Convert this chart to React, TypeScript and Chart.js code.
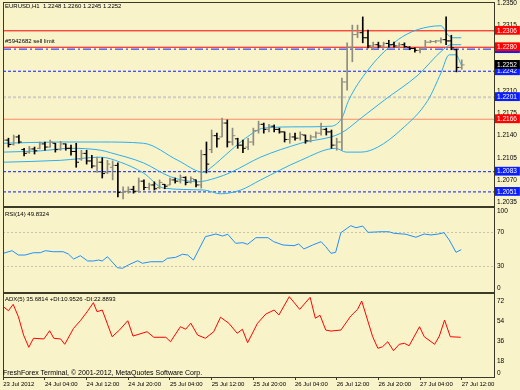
import React, { useEffect, useRef } from "react";
import { Chart, registerables } from "chart.js";

Chart.register(...registerables);

// ---------------- data ----------------
const opens = [
  1.2120, 1.2133, 1.2126, 1.2138, 1.2118, 1.2114, 1.2119, 1.2120, 1.2127, 1.2122,
  1.2128, 1.2118, 1.2127, 1.2120, 1.2115, 1.2103, 1.2112, 1.2100, 1.2092, 1.2098,
  1.2082, 1.2090, 1.2093, 1.2050, 1.2052, 1.2055, 1.2052, 1.2068, 1.2058, 1.2062,
  1.2058, 1.2063, 1.2062, 1.2070, 1.2068, 1.2074, 1.2066, 1.2070, 1.2062, 1.2110,
  1.2118, 1.2140, 1.2138, 1.2160, 1.2130, 1.2135, 1.2125, 1.2122, 1.2130, 1.2148,
  1.2158, 1.2150, 1.2155, 1.2150, 1.2146, 1.2134, 1.2138, 1.2136, 1.2141, 1.2132,
  1.2138, 1.2144, 1.2150, 1.2146, 1.2125, 1.2130, 1.2225, 1.2280, 1.2300, 1.2303,
  1.2295, 1.2282, 1.2284, 1.2282, 1.2286, 1.2284, 1.2282, 1.2284, 1.2280, 1.2278,
  1.2275, 1.2279, 1.2288, 1.2289, 1.2290, 1.2292, 1.2290, 1.2276, 1.2248,
];
const highs = [
  1.2138, 1.2136, 1.2141, 1.2141, 1.2120, 1.2123, 1.2122, 1.2130, 1.2130, 1.2133,
  1.2128, 1.2131, 1.2127, 1.2125, 1.2128, 1.2117, 1.2117, 1.2109, 1.2106, 1.2105,
  1.2101, 1.2100, 1.2097, 1.2059, 1.2059, 1.2060, 1.2073, 1.2070, 1.2065, 1.2067,
  1.2070, 1.2063, 1.2073, 1.2073, 1.2078, 1.2075, 1.2075, 1.2070, 1.2117, 1.2130,
  1.2149, 1.2144, 1.2168, 1.2165, 1.2152, 1.2136, 1.2133, 1.2136, 1.2152, 1.2163,
  1.2160, 1.2158, 1.2157, 1.2152, 1.2146, 1.2144, 1.2144, 1.2146, 1.2141, 1.2141,
  1.2146, 1.2160, 1.2152, 1.2149, 1.2136, 1.2231, 1.2287, 1.2315, 1.2315, 1.2328,
  1.2307, 1.2288, 1.2288, 1.2288, 1.2291, 1.2288, 1.2287, 1.2287, 1.2281, 1.2279,
  1.2279, 1.2291, 1.2291, 1.2291, 1.2295, 1.2328, 1.2299, 1.2277, 1.2260,
];
const lows = [
  1.2117, 1.2122, 1.2125, 1.2128, 1.2108, 1.2112, 1.2111, 1.2119, 1.2117, 1.2122,
  1.2114, 1.2117, 1.2117, 1.2109, 1.2090, 1.2101, 1.2095, 1.2089, 1.2082, 1.2073,
  1.2080, 1.2070, 1.2043, 1.2040, 1.2049, 1.2049, 1.2051, 1.2054, 1.2054, 1.2054,
  1.2056, 1.2056, 1.2062, 1.2065, 1.2065, 1.2062, 1.2065, 1.2059, 1.2057, 1.2081,
  1.2113, 1.2122, 1.2138, 1.2122, 1.2125, 1.2120, 1.2113, 1.2118, 1.2125, 1.2144,
  1.2144, 1.2146, 1.2146, 1.2144, 1.2130, 1.2128, 1.2133, 1.2133, 1.2128, 1.2130,
  1.2136, 1.2141, 1.2141, 1.2120, 1.2117, 1.2117, 1.2212, 1.2257, 1.2295, 1.2287,
  1.2279, 1.2276, 1.2279, 1.2279, 1.2280, 1.2280, 1.2279, 1.2280, 1.2276, 1.2272,
  1.2271, 1.2277, 1.2287, 1.2287, 1.2287, 1.2284, 1.2276, 1.2241, 1.2245,
];
const closes = [
  1.2133, 1.2126, 1.2138, 1.2130, 1.2112, 1.2119, 1.2116, 1.2127, 1.2122, 1.2130,
  1.2118, 1.2127, 1.2120, 1.2115, 1.2098, 1.2112, 1.2100, 1.2092, 1.2098, 1.2080,
  1.2095, 1.2093, 1.2050, 1.2052, 1.2055, 1.2052, 1.2068, 1.2058, 1.2062, 1.2056,
  1.2066, 1.2060, 1.2070, 1.2068, 1.2074, 1.2066, 1.2072, 1.2062, 1.2110, 1.2095,
  1.2140, 1.2135, 1.2160, 1.2130, 1.2140, 1.2125, 1.2120, 1.2130, 1.2148, 1.2158,
  1.2150, 1.2155, 1.2150, 1.2146, 1.2134, 1.2138, 1.2136, 1.2142, 1.2132, 1.2138,
  1.2144, 1.2150, 1.2146, 1.2125, 1.2130, 1.2225, 1.2280, 1.2300, 1.2303, 1.2295,
  1.2282, 1.2284, 1.2282, 1.2286, 1.2284, 1.2282, 1.2284, 1.2281, 1.2278, 1.2275,
  1.2277, 1.2288, 1.2289, 1.2290, 1.2292, 1.2290, 1.2279, 1.2248, 1.2252,
];

// Bollinger bands (bar index, price)
const bbUpperX = [0, 11, 18.7, 26.9, 33.5, 38.5, 39.8, 43.7, 46.5, 50, 57.1, 62.9, 65, 66.3, 70, 75, 78.3, 81.5, 84, 85.4, 86.3, 87.9];
const bbUpperV = [1.2128, 1.2130, 1.2130, 1.2128, 1.2101, 1.2082, 1.2089, 1.2117, 1.2136, 1.2152, 1.2154, 1.2155, 1.2168, 1.2196, 1.2244, 1.2287, 1.2304, 1.2312, 1.2314, 1.2299, 1.2295, 1.2295];
const bbMidX = [0, 7.1, 12.9, 18.7, 20.6, 26.9, 32.1, 37.3, 40.8, 43.7, 49.4, 57.1, 64.8, 68.7, 73.1, 79.6, 84.4, 86, 87.9];
const bbMidV = [1.2114, 1.2116, 1.2120, 1.2117, 1.2113, 1.2097, 1.2075, 1.2067, 1.2073, 1.2082, 1.2106, 1.2128, 1.2144, 1.2168, 1.2196, 1.2236, 1.2276, 1.2284, 1.2284];
const bbLowerX = [0, 11, 18.7, 22.5, 26.9, 30.8, 38.5, 41.7, 45.6, 49.4, 57.1, 63.8, 65.8, 68.7, 71.9, 76.3, 81.5, 84, 85.6, 86.9, 87.9];
const bbLowerV = [1.2098, 1.2101, 1.2106, 1.2098, 1.2081, 1.2057, 1.2054, 1.2048, 1.2054, 1.2070, 1.2101, 1.2120, 1.2114, 1.2114, 1.2122, 1.2149, 1.2196, 1.2239, 1.2268, 1.2268, 1.2252];

// horizontal price levels
const levelValues = [1.2306, 1.2280, 1.2277, 1.2242, 1.2201, 1.2166, 1.2083, 1.2051];
const currentPrice = 1.2252;
const priceTicks = [1.2350, 1.2315, 1.2280, 1.2245, 1.2210, 1.2175, 1.2140, 1.2105, 1.2070, 1.2035];

// RSI(14)
const rsiX = [0, 1.7, 2.9, 4.2, 5.8, 7.1, 8.1, 9.6, 11.5, 12.5, 13.5, 14.8, 16.2, 17.3, 18.3, 19.0, 20.0, 21.9, 22.9, 24.0, 25.8, 26.7, 28.3, 30.6, 31.5, 33.1, 34.4, 35.4, 36.5, 38.8, 40.8, 42.1, 43.1, 44.6, 46.0, 46.9, 48.5, 50.8, 51.9, 53.7, 55.8, 56.7, 57.7, 59.4, 61.0, 61.9, 62.9, 63.8, 64.8, 66.7, 67.7, 69.0, 70.0, 72.5, 74.0, 75.0, 77.3, 79.2, 80.8, 82.1, 83.5, 84.6, 85.6, 86.9, 87.9];
const rsiV = [45.5, 48.6, 43.5, 43.5, 46.2, 46.2, 48.6, 47.4, 47.4, 44.7, 38.8, 42.7, 36.5, 36.5, 37.6, 36.5, 41.5, 28.6, 27.9, 31.8, 36.8, 33.8, 35.6, 35.6, 39.6, 40.8, 44.4, 43.5, 37.6, 65.1, 68.2, 65.9, 67.9, 57.3, 58.0, 56.1, 63.9, 63.9, 59.2, 55.3, 54.5, 56.5, 50.6, 55.3, 59.2, 53.3, 45.5, 46.7, 69.8, 78.0, 75.6, 77.6, 70.2, 70.9, 70.9, 69.1, 67.9, 64.4, 68.2, 67.1, 68.2, 69.8, 61.2, 46.7, 49.8];
const rsiLevels = [70, 30];
const rsiTicks = [100, 70, 30, 0];

// ADX(5)
const adxX = [0, 1.0, 1.9, 2.9, 3.9, 4.9, 5.8, 7.8, 8.9, 9.7, 11.0, 11.8, 13.5, 14.8, 16.1, 17.3, 18.0, 19.0, 20.9, 22.3, 23.9, 24.9, 27.6, 28.9, 31.2, 32.1, 34.0, 35.0, 36.0, 37.3, 38.8, 40.4, 41.7, 43.3, 44.9, 45.9, 46.9, 48.8, 50.4, 52.0, 52.9, 54.9, 56.9, 58.9, 59.9, 60.8, 61.9, 62.9, 64.8, 66.7, 68.0, 68.8, 70.9, 71.9, 72.8, 73.8, 74.9, 76.0, 77.0, 77.9, 79.9, 80.8, 82.8, 83.7, 84.7, 85.8, 87.8];
const adxV = [63.2, 59.6, 65.3, 54.2, 37.7, 26.7, 34.8, 34.2, 41.6, 34.8, 34.2, 29.4, 43.8, 50.6, 58.7, 66.8, 58.7, 60.2, 36.2, 42.2, 50.6, 36.8, 40.7, 35.7, 35.7, 31.7, 45.2, 42.9, 48.3, 37.7, 34.8, 40.7, 53.7, 48.3, 39.3, 42.9, 30.8, 48.3, 56.6, 60.2, 55.7, 72.2, 60.8, 71.6, 52.8, 55.5, 42.2, 41.3, 42.2, 54.8, 60.8, 68.3, 36.2, 25.8, 27.2, 31.7, 23.6, 29.4, 30.3, 28.1, 45.2, 36.2, 29.4, 36.8, 51.2, 36.2, 35.7];
const adxTicks = [72, 54, 36, 18, 0];

// time axis
const timeTickIdx = [0, 8, 16, 24, 32, 40, 48, 56, 64, 72, 80, 88];
const timeLabels = ["23 Jul 2012", "24 Jul 04:00", "24 Jul 12:00", "24 Jul 20:00", "25 Jul 04:00", "25 Jul 12:00", "25 Jul 20:00", "26 Jul 04:00", "26 Jul 12:00", "26 Jul 20:00", "27 Jul 04:00", "27 Jul 12:00"];

// ---------------- styles ----------------
const BG = "#f9f3c9";
const FONT = "'Liberation Sans', Arial, sans-serif";
const RED = "#ff0000";
const BLUE = "#0a1eff";
const BB_COLOR = "#2aaef0";
const X_MIN = -0.05;
const X_MAX = 94.19;
const P_MIN = 1.20287;
const P_MAX = 1.23516;

const levelStyles = [
  { color: RED, dash: [] as number[], width: 1, box: RED },
  { color: RED, dash: [], width: 1, box: RED },
  { color: BLUE, dash: [8, 3, 2, 3], width: 1, box: BLUE },
  { color: BLUE, dash: [3, 2], width: 1, box: BLUE },
  { color: "#cfcdc4", dash: [3, 2], width: 2, box: BLUE },
  { color: "#ff8a6a", dash: [], width: 1, box: RED },
  { color: BLUE, dash: [3, 2], width: 1, box: BLUE },
  { color: BLUE, dash: [3, 2], width: 1, box: BLUE },
];

const frame = {
  id: "frame",
  afterDatasetsDraw(chart: any) {
    const { ctx, chartArea: a } = chart;
    const l = Math.round(a.left) + 0.5;
    const r = Math.round(a.right) + 0.5;
    const t = Math.round(a.top) + 0.5;
    const b = Math.round(a.bottom) + 0.5;
    ctx.save();
    ctx.strokeStyle = "#3a3a26";
    ctx.lineWidth = 1;
    ctx.strokeRect(l, t, r - l, b - t);
    ctx.restore();
  },
};

const yFit = (s: any) => {
  s.width = 26;
  s.paddingTop = 0;
  s.paddingBottom = 0;
};

const yGrid = { display: false, drawTicks: false, tickLength: 0 };

const xHidden: any = { type: "linear", min: X_MIN, max: X_MAX, display: false, offset: false };

const basePlugins: any = { legend: { display: false }, tooltip: { enabled: false }, title: { display: false } };

function barColor(i: number) {
  return closes[i] >= opens[i] ? "#8e8c7e" : "#000000";
}

function hLine(v: number, style: any, order: number) {
  return {
    type: "line",
    data: [{ x: X_MIN, y: v }, { x: X_MAX, y: v }],
    borderColor: style.color,
    borderWidth: style.width,
    borderDash: style.dash,
    pointRadius: 0,
    fill: false,
    order,
  };
}

function bbLine(xs: number[], vs: number[]) {
  return {
    type: "line",
    data: xs.map((x, i) => ({ x, y: vs[i] })),
    borderColor: BB_COLOR,
    borderWidth: 1,
    pointRadius: 0,
    fill: false,
    cubicInterpolationMode: "monotone",
    order: 1,
  };
}

export default function App() {
  const mainRef = useRef<HTMLCanvasElement>(null);
  const rsiRef = useRef<HTMLCanvasElement>(null);
  const adxRef = useRef<HTMLCanvasElement>(null);

  useEffect(() => {
    const boxed = [
      { v: levelValues[2], c: levelStyles[2].box },
      { v: levelValues[0], c: levelStyles[0].box },
      { v: levelValues[1], c: levelStyles[1].box },
      { v: levelValues[3], c: levelStyles[3].box },
      { v: currentPrice, c: "#000000" },
      { v: levelValues[4], c: levelStyles[4].box },
      { v: levelValues[5], c: levelStyles[5].box },
      { v: levelValues[6], c: levelStyles[6].box },
      { v: levelValues[7], c: levelStyles[7].box },
    ];
    const allTicks = [...priceTicks, ...boxed.map((b) => b.v)];
    const nReg = priceTicks.length;

    const mainDatasets: any[] = [
      {
        type: "bar",
        data: highs.map((h, i) => ({ x: i, y: [lows[i], h] })),
        backgroundColor: (c: any) => barColor(c.dataIndex),
        barThickness: 1,
        borderWidth: 0,
        grouped: false,
        order: 0,
      },
      {
        type: "line",
        showLine: false,
        data: opens.map((o, i) => ({ x: i - 0.27, y: o })),
        pointStyle: "line",
        pointRadius: 1.4,
        pointBorderWidth: 1,
        pointBorderColor: (c: any) => barColor(c.dataIndex),
        pointBackgroundColor: (c: any) => barColor(c.dataIndex),
        order: 0,
      },
      {
        type: "line",
        showLine: false,
        data: closes.map((o, i) => ({ x: i + 0.27, y: o })),
        pointStyle: "line",
        pointRadius: 1.4,
        pointBorderWidth: 1,
        pointBorderColor: (c: any) => barColor(c.dataIndex),
        pointBackgroundColor: (c: any) => barColor(c.dataIndex),
        order: 0,
      },
      bbLine(bbUpperX, bbUpperV),
      bbLine(bbMidX, bbMidV),
      bbLine(bbLowerX, bbLowerV),
      ...levelValues.map((v, i) => hLine(v, levelStyles[i], 2)),
    ];

    const main = new Chart(mainRef.current as HTMLCanvasElement, {
      type: "bar",
      data: { datasets: mainDatasets },
      options: {
        animation: false,
        responsive: false,
        devicePixelRatio: 1,
        events: [],
        layout: { padding: { left: 3, right: 0, top: 2, bottom: 2 }, autoPadding: false },
        plugins: basePlugins,
        scales: {
          x: xHidden,
          y: {
            type: "linear",
            position: "right",
            min: P_MIN,
            max: P_MAX,
            grid: yGrid,
            border: { display: false },
            afterBuildTicks: (s: any) => {
              s.ticks = allTicks.map((v) => ({ value: v }));
            },
            afterFit: yFit,
            ticks: {
              autoSkip: false,
              padding: 3,
              font: { family: FONT, size: 6.5 },
              color: (c: any) => (c.index >= nReg ? "#ffffff" : "#000000"),
              showLabelBackdrop: (c: any) => c.index >= nReg,
              backdropColor: (c: any) => (c.index >= nReg ? boxed[c.index - nReg].c : "rgba(0,0,0,0)"),
              backdropPadding: { left: 2, right: 3, top: 1, bottom: 0 },
              callback: (v: any) => Number(v).toFixed(4),
            },
          } as any,
        },
      } as any,
      plugins: [frame],
    });

    const rsi = new Chart(rsiRef.current as HTMLCanvasElement, {
      type: "line",
      data: {
        datasets: [
          {
            data: rsiX.map((x, i) => ({ x, y: rsiV[i] })),
            borderColor: "#1e8fff",
            borderWidth: 1,
            pointRadius: 0,
            fill: false,
            order: 0,
          },
          ...rsiLevels.map((v) => hLine(v, { color: "#c9c4aa", dash: [2, 2], width: 1 }, 1)),
        ] as any,
      },
      options: {
        animation: false,
        responsive: false,
        devicePixelRatio: 1,
        events: [],
        layout: { padding: { left: 3, right: 0, top: 1, bottom: 2 }, autoPadding: false },
        plugins: basePlugins,
        scales: {
          x: xHidden,
          y: {
            type: "linear",
            position: "right",
            min: 0,
            max: 100,
            grid: yGrid,
            border: { display: false },
            afterBuildTicks: (s: any) => {
              s.ticks = rsiTicks.map((v) => ({ value: v }));
            },
            afterFit: yFit,
            ticks: {
              autoSkip: false,
              padding: 3,
              font: { family: FONT, size: 6.5 },
              color: "#000000",
              callback: (v: any) => (v === 100 ? ["", "100"] : v === 0 ? ["0", ""] : String(v)),
            },
          } as any,
        },
      } as any,
      plugins: [frame],
    });

    const adx = new Chart(adxRef.current as HTMLCanvasElement, {
      type: "line",
      data: {
        datasets: [
          {
            data: adxX.map((x, i) => ({ x, y: adxV[i] })),
            borderColor: "#ff0000",
            borderWidth: 1,
            pointRadius: 0,
            fill: false,
          },
        ] as any,
      },
      options: {
        animation: false,
        responsive: false,
        devicePixelRatio: 1,
        events: [],
        layout: { padding: { left: 3, right: 0, top: 1, bottom: 0 }, autoPadding: false },
        plugins: basePlugins,
        scales: {
          x: {
            type: "linear",
            min: X_MIN,
            max: X_MAX,
            offset: false,
            position: "bottom",
            grid: { display: true, drawOnChartArea: false, drawTicks: true, tickLength: 3, color: "#3a3a26" },
            border: { display: false },
            afterBuildTicks: (s: any) => {
              s.ticks = timeTickIdx.map((v) => ({ value: v }));
            },
            afterFit: (s: any) => {
              s.height = 13;
              s.paddingLeft = 0;
              s.paddingRight = 0;
            },
            ticks: {
              autoSkip: false,
              maxRotation: 0,
              minRotation: 0,
              align: "start",
              padding: 1,
              font: { family: FONT, size: 6 },
              color: "#000000",
              callback: (_v: any, i: number) => timeLabels[i],
            },
          } as any,
          y: {
            type: "linear",
            position: "right",
            min: 0,
            max: 75.5,
            grid: yGrid,
            border: { display: false },
            afterBuildTicks: (s: any) => {
              s.ticks = adxTicks.map((v) => ({ value: v }));
            },
            afterFit: yFit,
            ticks: {
              autoSkip: false,
              padding: 3,
              font: { family: FONT, size: 6.5 },
              color: "#000000",
              callback: (v: any) => (v === 0 ? ["0", ""] : ["", String(v)]),
            },
          } as any,
        },
      } as any,
      plugins: [frame],
    });

    return () => {
      main.destroy();
      rsi.destroy();
      adx.destroy();
    };
  }, []);

  const txt = (top: number, left: number, size: number): React.CSSProperties => ({
    position: "absolute",
    top,
    left,
    fontSize: size,
    lineHeight: `${size + 1}px`,
    color: "#000",
    whiteSpace: "pre",
    fontFamily: FONT,
    pointerEvents: "none",
  });

  return (
    <div
      style={{
        position: "fixed",
        left: 0,
        top: 0,
        width: 520,
        height: 390,
        background: BG,
        overflow: "hidden",
        fontFamily: FONT,
      }}
    >
      <canvas ref={mainRef} width={520} height={208} style={{ position: "absolute", left: 0, top: 0, display: "block" }} />
      <canvas ref={rsiRef} width={520} height={88} style={{ position: "absolute", left: 0, top: 206, display: "block" }} />
      <canvas ref={adxRef} width={520} height={98} style={{ position: "absolute", left: 0, top: 292, display: "block" }} />
      <div style={txt(3, 5, 6)}>{"EURUSD,H1  1.2248 1.2260 1.2245 1.2252"}</div>
      <div style={txt(38, 5, 6)}>{"#5942682 sell limit"}</div>
      <div style={txt(211, 5, 6)}>{"RSI(14) 49.8324"}</div>
      <div style={txt(296, 5, 6)}>{"ADX(5) 35.6814 +DI:10.9526 -DI:22.8893"}</div>
      <div style={txt(369, 3, 7)}>{"FreshForex Terminal, © 2001-2012, MetaQuotes Software Corp."}</div>
    </div>
  );
}
